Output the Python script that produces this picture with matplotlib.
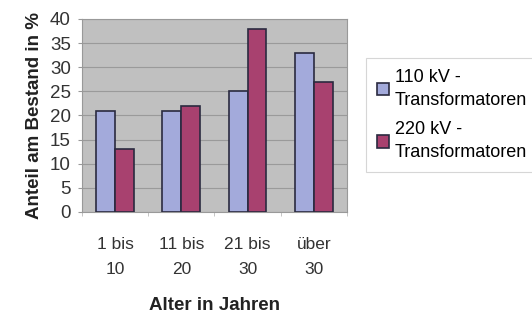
import matplotlib.pyplot as plt
import numpy as np

plt.rcParams['font.family'] = ['Liberation Sans', 'DejaVu Sans']

categories = ['1 bis\n10', '11 bis\n20', '21 bis\n30', 'über\n30']
kv110 = [21, 21, 25, 33]
kv220 = [13, 22, 38, 27]
series_names = ['110 kV -\nTransformatoren', '220 kV -\nTransformatoren']

fig = plt.figure(figsize=(5.32, 3.15), dpi=100)
ax = fig.add_axes([0.154, 0.327, 0.498, 0.613])
ax.set_facecolor('#C0C0C0')

x = np.arange(len(categories))
w = 0.286
b1 = ax.bar(x - w / 2, kv110, w, color='#A3AADB', edgecolor='#2a2a40', linewidth=1.2, zorder=3)
b2 = ax.bar(x + w / 2, kv220, w, color='#A8416F', edgecolor='#2a2a40', linewidth=1.2, zorder=3)

ax.set_xlim(-0.5, 3.5)
ax.set_ylim(0, 40)
ax.set_yticks(range(0, 41, 5))
ax.yaxis.grid(True, color='#9a9a9a', linewidth=0.8, zorder=0)
ax.set_xticks(x)
ax.set_xticklabels(categories, fontsize=12.5, color='#333333', linespacing=1.85)
ax.set_xticks(np.arange(-0.5, 4, 1), minor=True)
ax.tick_params(axis='x', which='major', length=0, pad=18)
ax.tick_params(axis='x', which='minor', length=3, color='#bbbbbb')
ax.tick_params(axis='y', labelsize=13.5, labelcolor='#333333', length=3, color='#999999', pad=5)
for s in ax.spines.values():
    s.set_color('#999999')
    s.set_linewidth(0.8)

ax.set_ylabel('Anteil am Bestand in %', fontsize=13.5, fontweight='bold', color='#222222', labelpad=5)
ax.set_xlabel('Alter in Jahren', fontsize=13.5, fontweight='bold', color='#222222', labelpad=14)

leg = fig.legend([b1, b2], series_names, loc='upper left', bbox_to_anchor=(0.688, 0.816),
                 fontsize=13, frameon=True, fancybox=False, edgecolor='#cccccc',
                 handlelength=0.7, handleheight=0.7, handletextpad=0.3,
                 labelspacing=0.7, borderpad=0.6, borderaxespad=0)
leg.get_frame().set_linewidth(0.8)
for t in leg.get_texts():
    t.set_linespacing(1.45)

fig.savefig('out.png', dpi=100)
